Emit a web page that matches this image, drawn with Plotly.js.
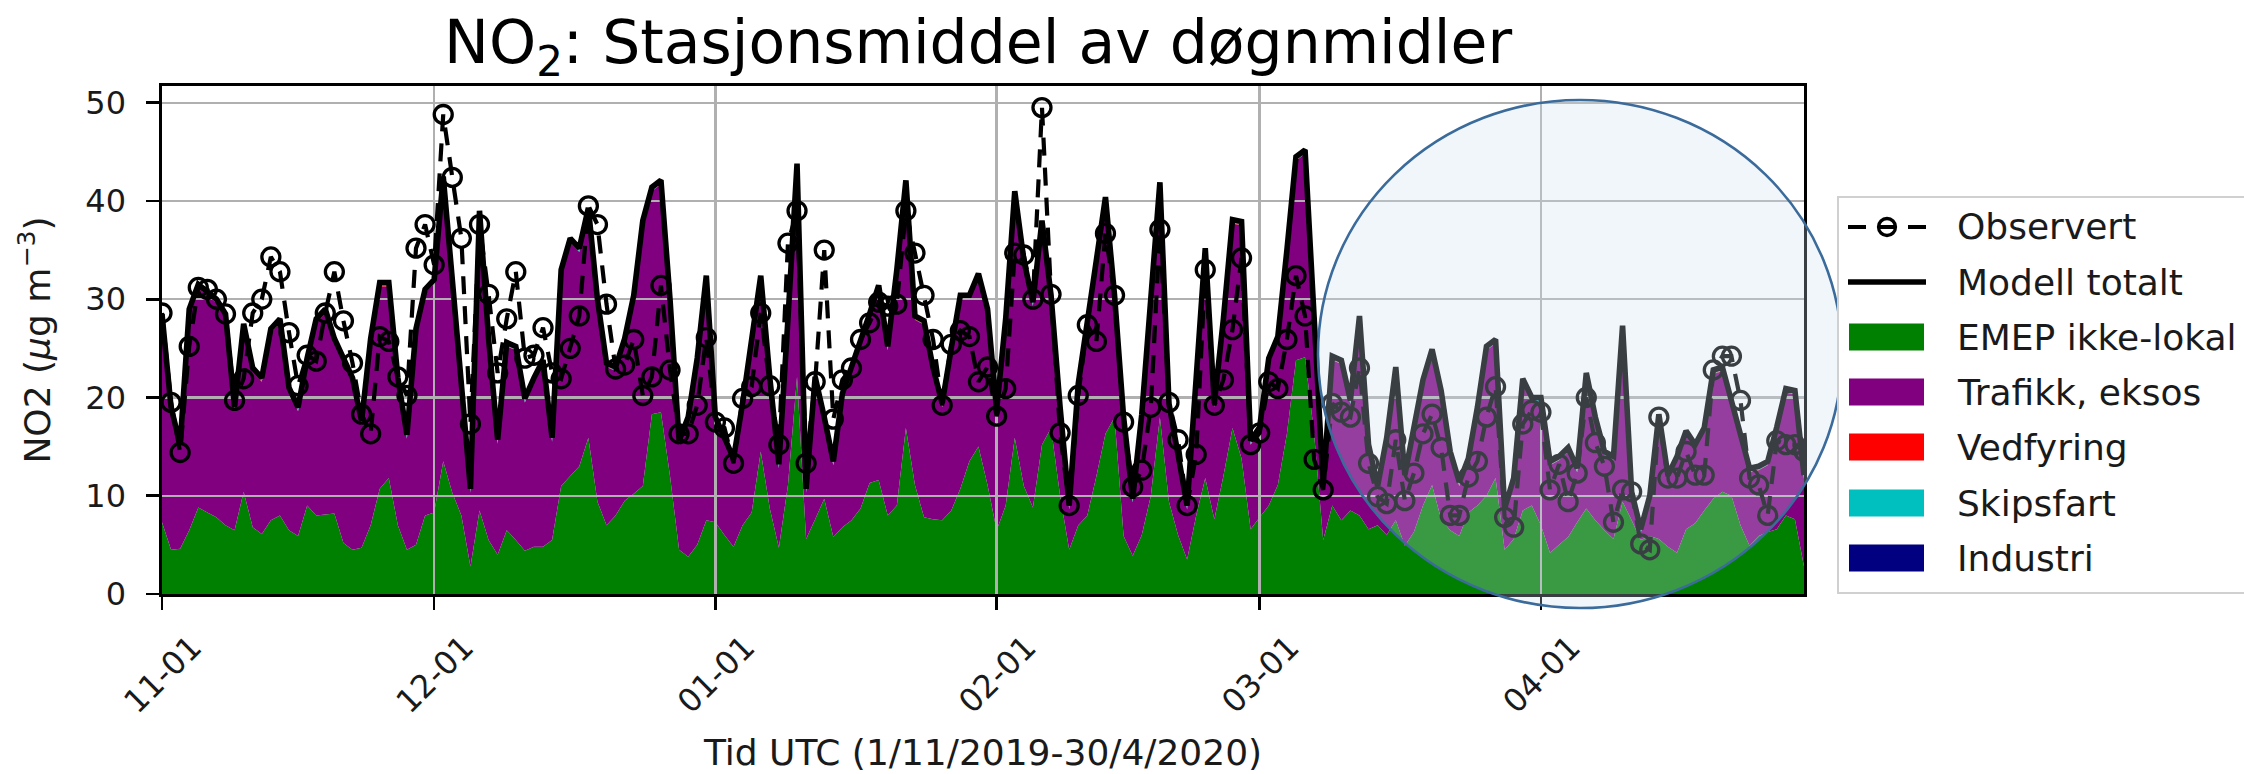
<!DOCTYPE html>
<html>
<head>
<meta charset="utf-8">
<script src="https://cdn.plot.ly/plotly-3.0.1.min.js"></script>
<style>
html,body{margin:0;padding:0;background:#ffffff;}
#chart{width:2244px;height:774px;}
</style>
</head>
<body>
<div id="chart"></div>
<script>
// ---------------- data (one value per day from 2019-11-01) ----------------
const startDate = [2019, 10, 1];           // year, month index (0-based), day
const xRange = ['2019-11-01', '2020-04-30'];

const emep = [
  7.3, 4.5, 4.6, 6.5, 8.8, 8.3, 7.8, 7.0, 6.5, 10.4,
  6.8, 6.1, 7.5, 8.0, 6.5, 5.9, 9.0, 8.0, 8.1, 8.2,
  5.2, 4.5, 4.7, 7.0, 10.7, 11.8, 7.0, 4.5, 5.0, 8.0,
  8.3, 13.5, 10.3, 8.0, 2.8, 8.5, 5.5, 4.0, 6.5, 5.5,
  4.4, 4.8, 4.8, 5.5, 11.0, 12.0, 13.0, 15.9, 9.4, 7.0,
  8.0, 9.5, 10.2, 11.0, 18.3, 18.5, 12.0, 4.5, 3.8, 5.0,
  7.5, 7.3, 6.0, 4.8, 7.0, 8.3, 14.5, 8.7, 4.7, 11.1,
  22.1, 5.6, 7.6, 9.7, 5.8, 6.8, 7.5, 8.7, 11.3, 11.6,
  8.0, 9.0, 16.9, 11.1, 7.8, 7.6, 7.5, 8.5, 10.7, 13.5,
  15.0, 11.1, 6.5, 9.0, 15.9, 11.0, 8.8, 15.2, 16.9, 10.0,
  4.5, 7.0, 8.0, 12.0, 16.3, 18.0, 5.9, 3.9, 6.0, 10.0,
  18.0, 9.4, 6.0, 3.5, 8.0, 11.8, 7.6, 12.0, 16.9, 13.8,
  6.6, 7.8, 9.0, 11.1, 16.3, 23.8, 24.1, 16.3, 5.5, 9.0,
  7.5, 8.5, 8.0, 6.6, 7.0, 6.0, 7.5, 4.9, 6.3, 9.0,
  11.1, 7.6, 6.5, 5.9, 8.3, 9.0, 10.0, 11.8, 4.5, 5.6,
  8.5, 9.0, 7.0, 4.2, 5.0, 5.8, 7.3, 8.7, 7.5, 6.5,
  5.6, 9.4, 7.5, 5.5, 5.9, 5.6, 4.8, 4.2, 6.6, 7.2,
  8.5, 9.7, 10.4, 10.0, 7.0, 4.9, 5.9, 6.3, 6.6, 8.0,
  7.6, 2.8
];

const trafikk = [
  20.8, 14.1, 10.2, 22.1, 22.3, 22.1, 21.8, 21.1, 12.1, 16.7,
  15.8, 15.5, 19.1, 19.6, 14.1, 12.7, 14.6, 19.6, 20.5, 17.4,
  18.4, 17.1, 12.5, 18.6, 20.6, 19.5, 14.6, 11.3, 21.6, 22.6,
  23.3, 28.6, 21.3, 12.6, 7.5, 30.1, 20.1, 11.3, 18.7, 19.3,
  15.1, 16.8, 18.6, 10.0, 21.6, 23.8, 21.8, 23.0, 20.2, 16.1,
  14.7, 16.1, 19.8, 26.6, 22.7, 23.2, 17.6, 10.7, 13.8, 18.6,
  24.5, 10.3, 9.6, 8.6, 12.0, 17.3, 17.5, 12.9, 8.1, 16.5,
  21.3, 4.7, 14.1, 7.9, 7.3, 13.2, 15.1, 16.8, 16.8, 19.4,
  16.8, 23.6, 24.8, 16.8, 19.6, 15.0, 11.5, 16.1, 19.3, 16.5,
  17.2, 17.5, 11.8, 18.6, 24.7, 22.6, 20.5, 22.4, 13.1, 8.6,
  4.1, 14.0, 18.9, 21.6, 23.7, 12.0, 11.7, 5.4, 11.9, 19.6,
  23.5, 9.6, 7.6, 5.1, 13.6, 23.0, 11.4, 15.6, 20.8, 23.7,
  8.6, 8.8, 14.6, 14.7, 18.3, 20.3, 20.7, 11.3, 5.2, 14.8,
  15.9, 10.8, 19.9, 8.2, 3.6, 9.5, 15.2, 6.8, 10.6, 12.4,
  13.4, 12.7, 7.6, 5.1, 5.1, 9.6, 14.8, 13.7, 3.8, 5.8,
  13.0, 10.6, 12.6, 8.9, 8.6, 8.7, 5.1, 13.4, 10.1, 7.6,
  8.0, 17.5, 2.5, 0.7, 3.7, 12.3, 6.9, 9.4, 9.6, 7.6,
  8.0, 12.7, 12.3, 9.3, 8.6, 7.5, 6.7, 6.8, 10.0, 12.5,
  12.7, 8.9
];

const vedfyring = [
  0.05,0.05,0.05,0.05,0.05,0.05,0.05,0.05,0.05,0.05,
  0.05,0.05,0.05,0.05,0.05,0.05,0.05,0.05,0.05,0.05,
  0.05,0.05,0.05,0.05,0.05,0.05,0.05,0.05,0.05,0.05,
  0.05,0.05,0.05,0.05,0.05,0.05,0.05,0.05,0.05,0.05,
  0.05,0.05,0.05,0.05,0.05,0.05,0.05,0.05,0.05,0.05,
  0.05,0.05,0.05,0.05,0.05,0.05,0.05,0.05,0.05,0.05,
  0.05,0.05,0.05,0.05,0.05,0.05,0.05,0.05,0.05,0.05,
  0.05,0.05,0.05,0.05,0.05,0.05,0.05,0.05,0.05,0.05,
  0.05,0.05,0.05,0.05,0.05,0.05,0.05,0.05,0.05,0.05,
  0.05,0.05,0.05,0.05,0.05,0.05,0.05,0.05,0.05,0.05,
  0.05,0.05,0.05,0.05,0.05,0.05,0.05,0.05,0.05,0.05,
  0.05,0.05,0.05,0.05,0.05,0.05,0.05,0.05,0.05,0.05,
  0.05,0.05,0.05,0.05,0.05,0.05,0.05,0.05,0.05,0.05,
  0.05,0.05,0.05,0.05,0.05,0.05,0.05,0.05,0.05,0.05,
  0.05,0.05,0.05,0.05,0.05,0.05,0.05,0.05,0.05,0.05,
  0.05,0.05,0.05,0.05,0.05,0.05,0.05,0.05,0.05,0.05,
  0.05,0.05,0.05,0.05,0.05,0.05,0.05,0.05,0.05,0.05,
  0.05,0.05,0.05,0.05,0.05,0.05,0.05,0.05,0.05,0.05,
  0.05,0.05
];

const skipsfart = [
  0.3,0.3,0.3,0.3,0.3,0.3,0.3,0.3,0.3,0.3,
  0.3,0.3,0.3,0.3,0.3,0.3,0.3,0.3,0.3,0.3,
  0.3,0.3,0.3,0.3,0.3,0.3,0.3,0.3,0.3,0.3,
  0.3,0.3,0.3,0.3,0.3,0.3,0.3,0.3,0.3,0.3,
  0.3,0.3,0.3,0.3,0.3,0.3,0.3,0.3,0.3,0.3,
  0.3,0.3,0.3,0.3,0.3,0.3,0.3,0.3,0.3,0.3,
  0.3,0.3,0.3,0.3,0.3,0.3,0.3,0.3,0.3,0.3,
  0.3,0.3,0.3,0.3,0.3,0.3,0.3,0.3,0.3,0.3,
  0.3,0.3,0.3,0.3,0.3,0.3,0.3,0.3,0.3,0.3,
  0.3,0.3,0.3,0.3,0.3,0.3,0.3,0.3,0.3,0.3,
  0.3,0.3,0.3,0.3,0.3,0.3,0.3,0.3,0.3,0.3,
  0.3,0.3,0.3,0.3,0.3,0.3,0.3,0.3,0.3,0.3,
  0.3,0.3,0.3,0.3,0.3,0.3,0.3,0.3,0.3,0.3,
  0.3,0.3,0.3,0.3,0.3,0.3,0.3,0.3,0.3,0.3,
  0.3,0.3,0.3,0.3,0.3,0.3,0.3,0.3,0.3,0.3,
  0.3,0.3,0.3,0.3,0.3,0.3,0.3,0.3,0.3,0.3,
  0.3,0.3,0.3,0.3,0.3,0.3,0.3,0.3,0.3,0.3,
  0.3,0.3,0.3,0.3,0.3,0.3,0.3,0.3,0.3,0.3,
  0.3,0.3
];

const industri = [
  0.05,0.05,0.05,0.05,0.05,0.05,0.05,0.05,0.05,0.05,
  0.05,0.05,0.05,0.05,0.05,0.05,0.05,0.05,0.05,0.05,
  0.05,0.05,0.05,0.05,0.05,0.05,0.05,0.05,0.05,0.05,
  0.05,0.05,0.05,0.05,0.05,0.05,0.05,0.05,0.05,0.05,
  0.05,0.05,0.05,0.05,0.05,0.05,0.05,0.05,0.05,0.05,
  0.05,0.05,0.05,0.05,0.05,0.05,0.05,0.05,0.05,0.05,
  0.05,0.05,0.05,0.05,0.05,0.05,0.05,0.05,0.05,0.05,
  0.05,0.05,0.05,0.05,0.05,0.05,0.05,0.05,0.05,0.05,
  0.05,0.05,0.05,0.05,0.05,0.05,0.05,0.05,0.05,0.05,
  0.05,0.05,0.05,0.05,0.05,0.05,0.05,0.05,0.05,0.05,
  0.05,0.05,0.05,0.05,0.05,0.05,0.05,0.05,0.05,0.05,
  0.05,0.05,0.05,0.05,0.05,0.05,0.05,0.05,0.05,0.05,
  0.05,0.05,0.05,0.05,0.05,0.05,0.05,0.05,0.05,0.05,
  0.05,0.05,0.05,0.05,0.05,0.05,0.05,0.05,0.05,0.05,
  0.05,0.05,0.05,0.05,0.05,0.05,0.05,0.05,0.05,0.05,
  0.05,0.05,0.05,0.05,0.05,0.05,0.05,0.05,0.05,0.05,
  0.05,0.05,0.05,0.05,0.05,0.05,0.05,0.05,0.05,0.05,
  0.05,0.05,0.05,0.05,0.05,0.05,0.05,0.05,0.05,0.05,
  0.05,0.05
];

const observert = [
  28.6, 19.5, 14.4, 25.2, 31.2, 31.0, 30.0, 28.5, 19.7, 21.9,
  28.6, 30.0, 34.3, 32.8, 26.6, 21.2, 24.3, 23.7, 28.6, 32.8,
  27.8, 23.5, 18.3, 16.3, 26.2, 25.7, 22.1, 20.2, 35.2, 37.6,
  33.5, 48.8, 42.4, 36.2, 17.3, 37.6, 30.5, 22.5, 28.0, 32.8,
  24.0, 24.3, 27.1, 22.5, 21.9, 25.0, 28.3, 39.5, 37.6, 29.5,
  22.9, 23.3, 25.9, 20.2, 22.1, 31.4, 22.8, 16.3, 16.3, 19.2,
  26.1, 17.5, 16.9, 13.3, 19.9, 21.1, 28.6, 21.2, 15.2, 35.7,
  39.0, 13.3, 21.6, 35.0, 17.8, 21.8, 23.0, 25.9, 27.6, 29.7,
  29.3, 29.5, 39.0, 34.7, 30.4, 25.9, 19.2, 25.4, 26.8, 26.2,
  21.6, 23.1, 18.1, 20.9, 34.7, 34.5, 30.0, 49.5, 30.5, 16.4,
  9.0, 20.2, 27.4, 25.7, 36.7, 30.4, 17.5, 10.9, 12.6, 19.0,
  37.1, 19.5, 15.7, 9.0, 14.2, 33.0, 19.2, 21.8, 26.9, 34.2,
  15.2, 16.4, 21.6, 20.9, 25.9, 32.4, 28.3, 13.7, 10.6, 19.4,
  18.5, 18.0, 23.0, 13.3, 9.9, 9.2, 15.7, 9.5, 12.3, 16.3,
  18.3, 14.9, 8.0, 8.0, 11.9, 13.5, 18.0, 21.1, 7.8, 6.8,
  17.3, 18.7, 18.5, 10.6, 13.2, 9.4, 12.3, 20.0, 15.4, 13.0,
  7.3, 10.6, 10.4, 5.1, 4.5, 18.0, 11.8, 11.8, 14.5, 12.1,
  12.1, 22.8, 24.2, 24.2, 19.7, 11.8, 11.1, 8.0, 15.6, 15.2,
  15.2, 14.5
];

const monthTicks  = ['2019-11-01', '2019-12-01', '2020-01-01', '2020-02-01', '2020-03-01', '2020-04-01'];
const monthLabels = ['11-01', '12-01', '01-01', '02-01', '03-01', '04-01'];
const yTicks = [0, 10, 20, 30, 40, 50];

const seriesNames  = ['EMEP ikke-lokal', 'Trafikk, eksos', 'Vedfyring', 'Skipsfart', 'Industri'];
const seriesColors = ['#008000', '#800080', '#ff0000', '#00bfbf', '#000080'];

// ---------------- build ----------------
const days = emep.map((_, i) => new Date(Date.UTC(startDate[0], startDate[1], startDate[2] + i)).toISOString().slice(0, 10));
const components = [emep, trafikk, vedfyring, skipsfart, industri];
const modelTotal = days.map((_, i) => components.reduce((s, arr) => s + arr[i], 0));

const traces = components.map((arr, k) => ({
  type: 'scatter', mode: 'none', x: days, y: arr, name: seriesNames[k],
  stackgroup: 'bidrag', fillcolor: seriesColors[k], line: {width: 0},
  xaxis: 'x', yaxis: 'y', hoverinfo: 'skip', showlegend: false
}));
traces.push({
  type: 'scatter', mode: 'lines', x: days, y: modelTotal, name: 'Modell totalt',
  line: {color: '#000000', width: 5.6}, xaxis: 'x2', yaxis: 'y2', showlegend: false
});
traces.push({
  type: 'scatter', mode: 'lines+markers', x: days, y: observert, name: 'Observert',
  line: {color: '#000000', width: 4.2, dash: '18px,12px'},
  marker: {symbol: 'circle-open', size: 18, color: '#000000', line: {width: 3.3}},
  xaxis: 'x2', yaxis: 'y2', showlegend: false
});

// pixel helpers for layout-only decorations (plot area: x 162..1804, y 86..594)
const PL = 162, PR = 1804, PT = 86, PB = 594;
const px = v => (v - PL) / (PR - PL);
const py = v => (PB - v) / (PB - PT);

const shapes = [];
// highlight circle (drawn above the data, like the reference overlay)
shapes.push({type: 'circle', xref: 'paper', yref: 'paper', layer: 'above',
  x0: px(1318), x1: px(1842), y0: py(608), y1: py(100),
  fillcolor: 'rgba(205,222,240,0.28)', line: {color: '#3b6b9b', width: 2.6}});
// legend frame
shapes.push({type: 'rect', xref: 'paper', yref: 'paper', layer: 'above',
  x0: px(1838), x1: px(2262), y0: py(593), y1: py(197),
  fillcolor: '#ffffff', line: {color: '#d0d0d0', width: 2}});

const legendRows = [227, 282, 337, 392, 447, 503, 558];
const legendTexts = ['Observert', 'Modell totalt'].concat(seriesNames);
const annotations = [];
// legend symbols
shapes.push({type: 'line', xref: 'paper', yref: 'paper', layer: 'above',
  x0: px(1848), x1: px(1926), y0: py(legendRows[0]), y1: py(legendRows[0]),
  line: {color: '#000000', width: 4.2, dash: '18px,12px'}});
shapes.push({type: 'circle', xref: 'paper', yref: 'paper', layer: 'above',
  x0: px(1887 - 8.5), x1: px(1887 + 8.5), y0: py(legendRows[0] + 8.5), y1: py(legendRows[0] - 8.5),
  line: {color: '#000000', width: 3.3}});
shapes.push({type: 'line', xref: 'paper', yref: 'paper', layer: 'above',
  x0: px(1848), x1: px(1926), y0: py(legendRows[1]), y1: py(legendRows[1]),
  line: {color: '#000000', width: 5.6}});
seriesColors.forEach((c, k) => {
  const r = legendRows[k + 2];
  shapes.push({type: 'rect', xref: 'paper', yref: 'paper', layer: 'above',
    x0: px(1849), x1: px(1924), y0: py(r + 13.5), y1: py(r - 13.5),
    fillcolor: c, line: {width: 0}});
});
legendTexts.forEach((t, k) => {
  annotations.push({xref: 'paper', yref: 'paper', x: px(1955), y: py(legendRows[k]),
    xanchor: 'left', yanchor: 'middle', showarrow: false, text: t,
    font: {family: 'DejaVu Sans', size: 36, color: '#1a1a1a'}});
});

const commonX = {type: 'date', range: xRange};
const commonY = {range: [0, 51.7]};

const layout = {
  width: 2244, height: 774,
  margin: {l: PL, r: 2244 - PR, t: PT, b: 774 - PB, pad: 0},
  paper_bgcolor: '#ffffff', plot_bgcolor: 'rgba(0,0,0,0)',
  showlegend: false,
  font: {family: 'DejaVu Sans', color: '#000000'},
  title: {text: 'NO<sub>2</sub>: Stasjonsmiddel av døgnmidler',
    font: {family: 'DejaVu Sans', size: 60, color: '#000000'},
    xref: 'paper', x: 0.497, xanchor: 'center', yref: 'container', y: 1 - 42 / 774, yanchor: 'middle'},
  xaxis: Object.assign({}, commonX, {visible: false, anchor: 'y', fixedrange: true}),
  yaxis: Object.assign({}, commonY, {visible: false, anchor: 'x', fixedrange: true}),
  xaxis2: Object.assign({}, commonX, {
    anchor: 'y2', tickmode: 'array', tickvals: monthTicks, ticktext: monthLabels, tickangle: -45,
    ticks: 'outside', ticklen: 13, tickwidth: 2.6, tickcolor: '#000000',
    tickfont: {family: 'DejaVu Sans', size: 32, color: '#1a1a1a'},
    ticklabelshift: 30, ticklabelstandoff: 6,
    showgrid: true, gridcolor: '#b0b0b0', gridwidth: 2.4,
    showline: true, mirror: true, linecolor: '#000000', linewidth: 2.6, zeroline: false,
    title: {text: 'Tid UTC (1/11/2019-30/4/2020)', font: {family: 'DejaVu Sans', size: 36, color: '#1a1a1a'}, standoff: 20}
  }),
  yaxis2: Object.assign({}, commonY, {
    anchor: 'x2', tickmode: 'array', tickvals: yTicks,
    ticks: 'outside', ticklen: 13, tickwidth: 2.6, tickcolor: '#000000',
    tickfont: {family: 'DejaVu Sans', size: 32, color: '#1a1a1a'},
    ticklabelstandoff: 14,
    showgrid: true, gridcolor: '#b0b0b0', gridwidth: 2.4,
    showline: true, mirror: true, linecolor: '#000000', linewidth: 2.6, zeroline: false,
    title: {text: 'NO2 (<i>μ</i>g m<sup>−3</sup>)', font: {family: 'DejaVu Sans', size: 36, color: '#1a1a1a'}, standoff: 24}
  }),
  shapes: shapes,
  annotations: annotations
};

Plotly.newPlot('chart', traces, layout, {staticPlot: true, displayModeBar: false});
</script>
</body>
</html>
